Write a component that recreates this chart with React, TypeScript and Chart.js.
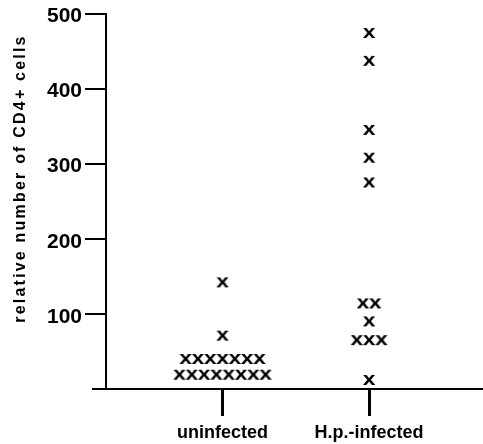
import React, { useEffect, useRef } from 'react';
import { Chart, registerables } from 'chart.js';

Chart.register(...registerables);

const categories = ['uninfected', 'H.p.-infected'];
const uninfectedValues = [142, 71, 40, 40, 40, 40, 40, 40, 40, 19, 19, 19, 19, 19, 19, 19, 19];
const infectedValues = [474, 437, 345, 308, 275, 114, 114, 90, 65, 65, 65, 12];
const yTicks = [0, 100, 200, 300, 400, 500];
const yTitle = 'relative number of CD4+ cells';

const GLYPH_STEP = 0.084; // horizontal spacing of stacked glyphs in x units

function spread(values: number[], center: number) {
  const counts: Record<number, number> = {};
  values.forEach((v) => (counts[v] = (counts[v] || 0) + 1));
  const seen: Record<number, number> = {};
  return values.map((v) => {
    const n = counts[v];
    const i = seen[v] || 0;
    seen[v] = i + 1;
    return { x: center + (i - (n - 1) / 2) * GLYPH_STEP, y: v };
  });
}

function makeGlyph() {
  const c = document.createElement('canvas');
  c.width = 18;
  c.height = 14;
  const g = c.getContext('2d')!;
  g.fillStyle = '#000';
  g.font = 'bold 19px "Liberation Sans", Arial, sans-serif';
  g.textAlign = 'center';
  g.textBaseline = 'alphabetic';
  g.translate(9, 0);
  g.scale(1.2, 1);
  g.fillText('x', 0, 11.9);
  return c;
}

const extras = {
  id: 'extras',
  afterDraw(chart: any) {
    const ctx = chart.ctx;
    const { left } = chart.chartArea;
    const y0 = chart.scales.y.getPixelForValue(0);
    ctx.save();
    ctx.strokeStyle = '#000';
    ctx.lineWidth = 2;
    ctx.beginPath();
    ctx.moveTo(92, y0);
    ctx.lineTo(left, y0);
    ctx.stroke();
    // y-axis title
    ctx.translate(21, 178.5);
    ctx.rotate(-Math.PI / 2);
    ctx.fillStyle = '#000';
    ctx.font = 'bold 16px "Liberation Sans", Arial, sans-serif';
    (ctx as any).letterSpacing = '2.2px';
    ctx.textAlign = 'center';
    ctx.textBaseline = 'middle';
    ctx.fillText(yTitle, 0, 0);
    ctx.restore();
  },
};

export default function App() {
  const ref = useRef<HTMLCanvasElement>(null);
  useEffect(() => {
    const glyph = makeGlyph();
    const chart = new Chart(ref.current!, {
      type: 'scatter',
      data: {
        datasets: [
          {
            label: categories[0],
            data: spread(uninfectedValues, 1),
            pointStyle: glyph as any,
            pointRadius: 6,
          },
          {
            label: categories[1],
            data: spread(infectedValues, 2),
            pointStyle: glyph as any,
            pointRadius: 6,
          },
        ],
      },
      options: {
        animation: false,
        responsive: false,
        devicePixelRatio: 1,
        layout: { autoPadding: false, padding: { top: 13.5, right: 0, left: 0, bottom: 0 } },
        plugins: { legend: { display: false }, tooltip: { enabled: false } },
        scales: {
          x: {
            type: 'linear',
            min: 0.205,
            max: 2.778,
            afterFit: (s: any) => {
              s.height = 55;
              s.paddingLeft = 0;
              s.paddingRight = 0;
            },
            afterBuildTicks: (s: any) => {
              s.ticks = [{ value: 1 }, { value: 2 }];
            },
            ticks: {
              color: '#000',
              padding: 6,
              font: { family: '"Liberation Sans", Arial, sans-serif', weight: 'bold', size: 18 },
              callback: (v: any) => categories[Number(v) - 1] ?? '',
              maxRotation: 0,
            },
            grid: {
              drawOnChartArea: false,
              drawTicks: true,
              tickLength: 27,
              color: '#000',
              lineWidth: 3,
            },
            border: { display: true, color: '#000', width: 2 },
          },
          y: {
            type: 'linear',
            min: 0,
            max: 500,
            afterFit: (s: any) => {
              s.width = 106;
              s.paddingTop = 0;
              s.paddingBottom = 0;
            },
            afterBuildTicks: (s: any) => {
              s.ticks = yTicks.map((v) => ({ value: v }));
            },
            ticks: {
              color: '#000',
              padding: 3,
              labelOffset: 3,
              font: { family: '"Liberation Sans", Arial, sans-serif', weight: 'bold', size: 21 },
              callback: (v: any) => (Number(v) === 0 ? '' : String(v)),
            },
            grid: {
              drawOnChartArea: false,
              drawTicks: true,
              tickLength: 21,
              lineWidth: 2,
              color: (c: any) => (c.tick && c.tick.value === 0 ? 'rgba(0,0,0,0)' : '#000'),
            },
            border: { display: true, color: '#000', width: 2 },
          },
        },
      },
      plugins: [extras],
    });
    return () => chart.destroy();
  }, []);
  return (
    <div style={{ position: 'absolute', left: 0, top: 0, width: 483, height: 444, background: '#fff' }}>
      <canvas ref={ref} width={483} height={444} />
    </div>
  );
}
